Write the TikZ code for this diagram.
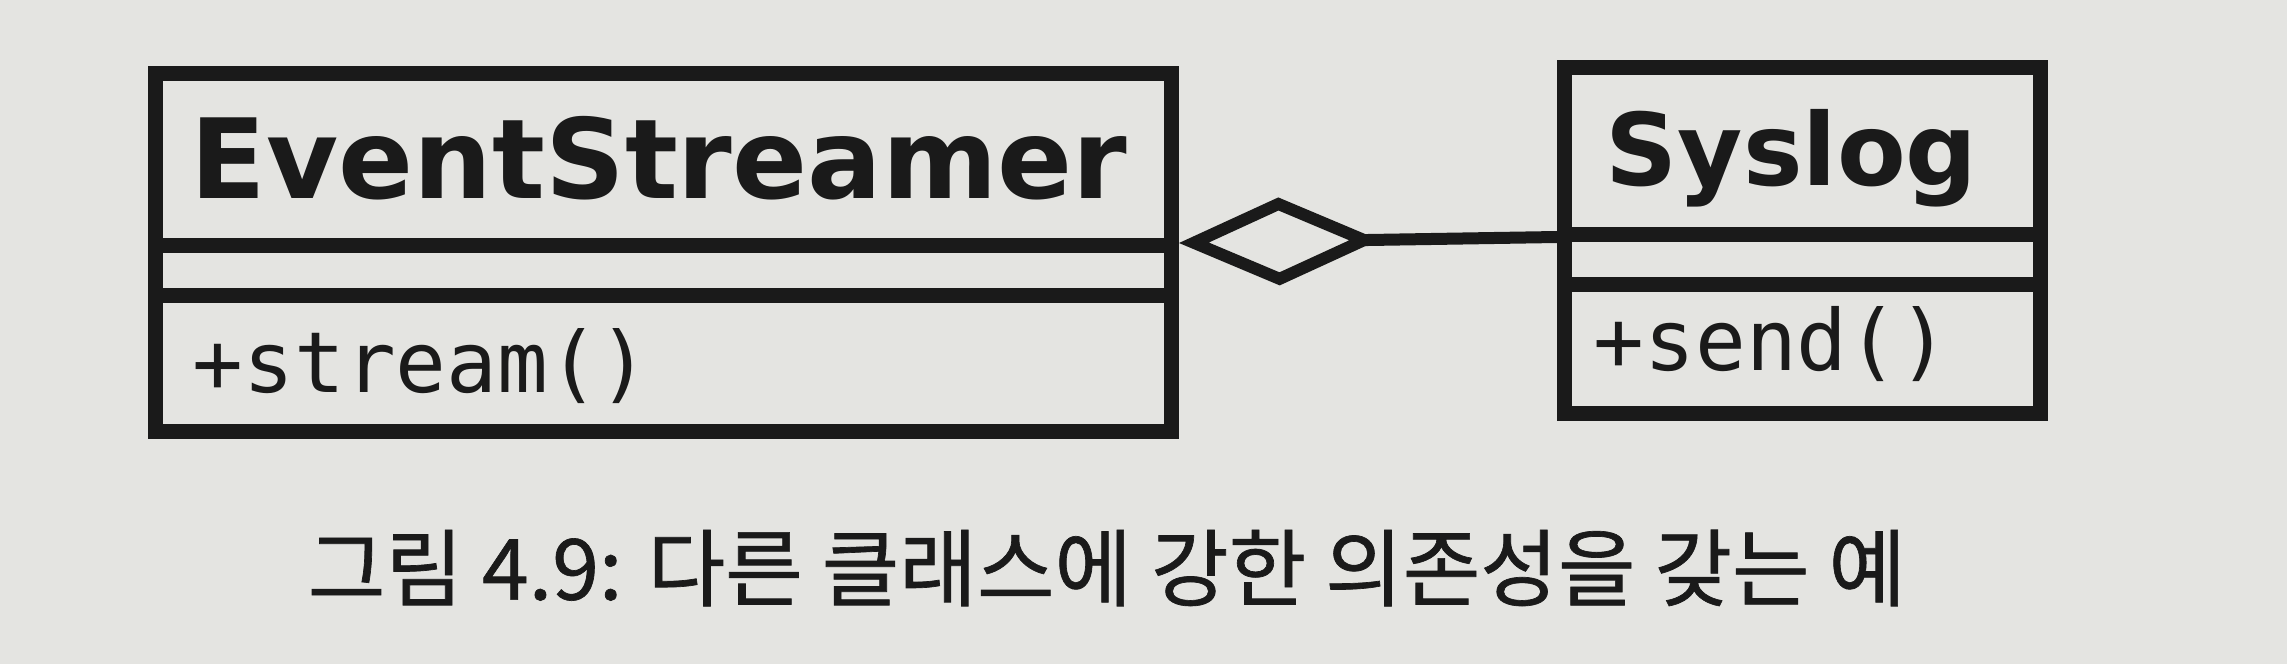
\documentclass[tikz,border=0pt]{standalone}
\usepackage{fontspec}
\setmainfont{DejaVu Sans}
\newfontfamily\clsfont{DejaVu Sans}
\newfontfamily\opfont{DejaVu Sans Mono}
\newfontfamily\cjk[FakeBold=0.8]{Noto Sans CJK KR}
\usetikzlibrary{arrows.meta}
\definecolor{paper}{HTML}{E4E4E1}
\definecolor{ink}{HTML}{1A1A1A}
\tikzset{
  classbox/.style={draw=ink, line width=0.15cm, inner sep=0pt, anchor=north west},
  divider/.style={draw=ink, line width=0.15cm},
  clsname/.style={inner sep=0pt, anchor=base west, text=ink, font=\clsfont\bfseries\fontsize{31.5}{36}\selectfont},
  opname/.style={inner sep=0pt, anchor=base west, text=ink, font=\opfont\fontsize{24}{28}\selectfont},
  caption/.style={inner sep=0pt, text=ink, font=\cjk\fontsize{24}{28}\selectfont},
  aggr/.style={draw=ink, line width=0.12cm, {Diamond[open, length=2.0cm, width=0.88cm]}-}
}
\begin{document}
\begin{tikzpicture}
\fill[paper] (0,0) rectangle (22.87,-6.64);
\useasboundingbox (0,0) rectangle (22.87,-6.64);
% EventStreamer class
\node[classbox, minimum width=10.16cm, minimum height=3.58cm] (es) at (1.48,-0.66) {};
\coordinate (esd1) at (0,-2.45);
\coordinate (esd2) at (0,-2.95);
\draw[divider] (es.west |- esd1) -- (es.east |- esd1);
\draw[divider] (es.west |- esd2) -- (es.east |- esd2);
\node[clsname] (esname) at (1.90,-1.98) {EventStreamer};
\node[opname] (esop) at (1.92,-3.92) {+stream()};
% Syslog class
\node[classbox, minimum width=4.76cm, minimum height=3.46cm] (sys) at (15.57,-0.60) {};
\coordinate (syd1) at (0,-2.34);
\coordinate (syd2) at (0,-2.84);
\draw[divider] (sys.west |- syd1) -- (sys.east |- syd1);
\draw[divider] (sys.west |- syd2) -- (sys.east |- syd2);
\node[clsname, font=\clsfont\bfseries\fontsize{28.5}{34}\selectfont] (sysname) at (16.05,-1.85) {Syslog};
\node[opname] (sysop) at (15.93,-3.70) {+send()};
% aggregation
\coordinate (agl) at (0,-2.43);
\coordinate (agr) at (0,-2.37);
\draw[aggr] (es.east |- agl) -- (sys.west |- agr);
% caption
\node[caption] (cap) at (11.07,-5.68) {그림 4.9: 다른 클래스에 강한 의존성을 갖는 예};
\end{tikzpicture}
\end{document}
